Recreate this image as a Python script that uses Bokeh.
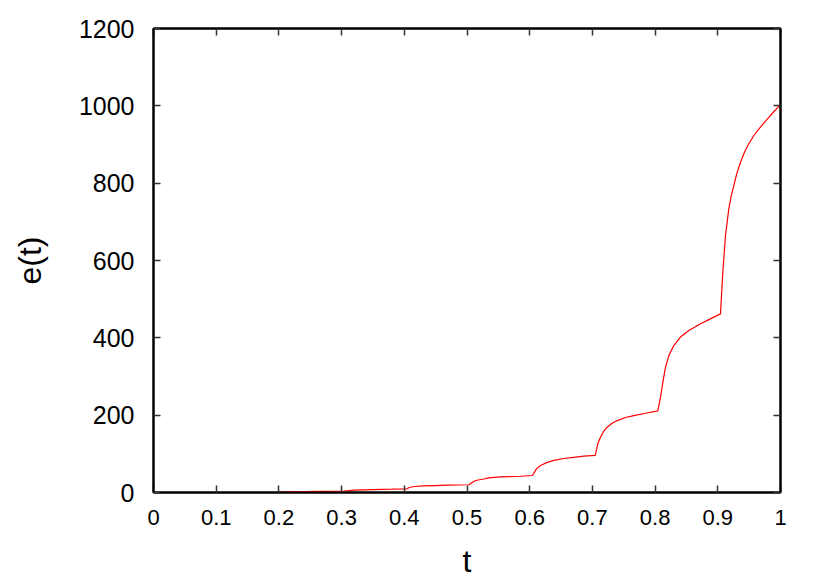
from bokeh.plotting import figure
from bokeh.models import LinearAxis, FixedTicker, Range1d
from bokeh.embed import file_html
from bokeh.resources import INLINE

# data
t_vals = [0.0, 0.1, 0.2, 0.204, 0.22, 0.26, 0.304, 0.32, 0.35, 0.38, 0.404,
          0.408, 0.416, 0.43, 0.449, 0.47, 0.503,
          0.5083, 0.5135, 0.5268, 0.5347, 0.5534, 0.5853, 0.6044,
          0.6108, 0.6172, 0.6279, 0.6385, 0.6544, 0.6703, 0.6863, 0.7045,
          0.7086, 0.7129, 0.7182, 0.7235, 0.7315, 0.7395, 0.7528, 0.7661, 0.7847, 0.8043,
          0.8086, 0.8129, 0.8166, 0.8219, 0.8298, 0.8405, 0.8538, 0.8697, 0.8857, 0.9043,
          0.9080, 0.9123, 0.9176, 0.9215, 0.9256, 0.9305, 0.9362, 0.9425, 0.9495, 0.9570,
          0.9654, 0.9735, 0.9814, 0.9900, 1.0]
e_vals = [0.0, 0.0, 0.0, 1.0, 2.0, 3.0, 3.5, 6.0, 7.5, 8.5, 9.5,
          13.0, 15.5, 17.0, 18.0, 19.0, 20.0,
          26.0, 31.0, 35.0, 38.0, 40.5, 42.0, 44.0,
          61.0, 70.0, 78.0, 83.0, 88.0, 91.0, 94.0, 96.0,
          126.0, 143.0, 159.0, 169.0, 179.0, 186.0, 194.0, 199.0, 205.0, 211.0,
          246.0, 290.0, 324.0, 354.0, 380.0, 402.0, 419.0, 434.0, 447.0, 462.0,
          570.0, 665.0, 734.0, 768.0, 794.0, 826.0, 854.0, 880.0, 902.0, 922.0,
          940.0, 956.0, 970.0, 986.0, 1003.0]

x_ticks = [0.0, 0.1, 0.2, 0.3, 0.4, 0.5, 0.6, 0.7, 0.8, 0.9, 1.0]
x_tick_labels = ["0", "0.1", "0.2", "0.3", "0.4", "0.5", "0.6", "0.7", "0.8", "0.9", "1"]
y_ticks = [0, 200, 400, 600, 800, 1000, 1200]
y_tick_labels = ["0", "200", "400", "600", "800", "1000", "1200"]

FONT = "Liberation Sans"

p = figure(width=830, height=581, output_backend="svg", toolbar_location=None,
           x_range=Range1d(0, 1), y_range=Range1d(0, 1200),
           min_border_left=153, min_border_right=50, min_border_top=28, min_border_bottom=89,
           x_axis_label="t", y_axis_label="e(t)")

p.line(t_vals, e_vals, line_color="#ff0000", line_width=1.2)

p.grid.visible = False
p.outline_line_color = "black"
p.outline_line_width = 2
p.background_fill_color = "white"
p.border_fill_color = "white"

def style_axis(ax, ticks, labels, show_labels):
    ax.ticker = FixedTicker(ticks=ticks)
    ax.major_label_overrides = {tk: lb for tk, lb in zip(ticks, labels)}
    ax.major_tick_in = 7
    ax.major_tick_out = 0
    ax.major_tick_line_color = "#333333"
    ax.major_tick_line_width = 1.5
    ax.minor_tick_line_color = None
    ax.axis_line_color = "black"
    ax.axis_line_width = 2
    ax.major_label_text_font = FONT
    ax.major_label_text_color = "black"
    if show_labels:
        ax.major_label_text_font_size = "25px"
    else:
        ax.major_label_text_font_size = "0px"
        ax.major_label_text_alpha = 0

style_axis(p.xaxis[0], x_ticks, x_tick_labels, True)
style_axis(p.yaxis[0], y_ticks, y_tick_labels, True)
p.xaxis[0].major_label_text_font_size = "22px"
p.xaxis[0].major_label_standoff = 17
p.yaxis[0].major_label_standoff = 19

for ax in (p.xaxis[0], p.yaxis[0]):
    ax.axis_label_text_font = FONT
    ax.axis_label_text_font_style = "normal"
    ax.axis_label_text_font_size = "32px"
    ax.axis_label_text_color = "black"
p.xaxis[0].axis_label_standoff = 15
p.yaxis[0].axis_label_standoff = 28

top = LinearAxis()
style_axis(top, x_ticks, x_tick_labels, False)
right = LinearAxis()
style_axis(right, y_ticks, y_tick_labels, False)
p.add_layout(top, "above")
p.add_layout(right, "right")

open("out.html", "w").write(file_html(p, INLINE))
